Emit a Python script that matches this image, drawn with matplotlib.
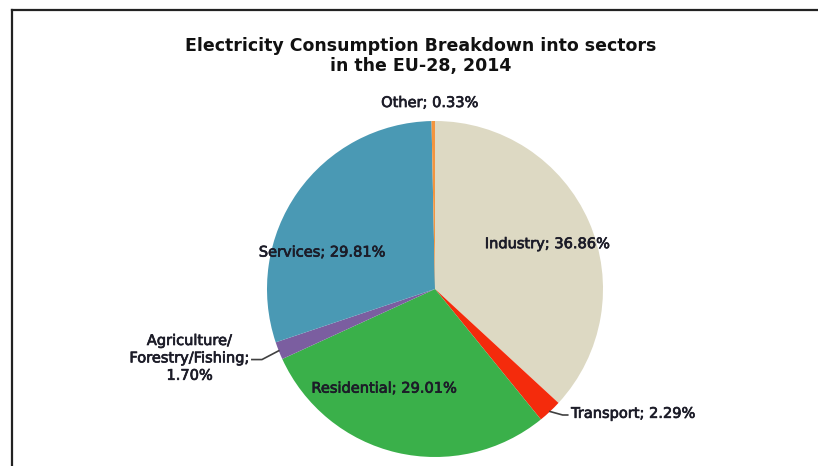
import numpy as np
import matplotlib.pyplot as plt
import matplotlib.patheffects as pe
from matplotlib.lines import Line2D

# sectors in clockwise order from 12 o'clock
sectors = ['Industry', 'Transport', 'Residential',
           'Agriculture/\nForestry/Fishing;\n', 'Services', 'Other']
shares = [36.86, 2.29, 29.01, 1.70, 29.81, 0.33]
colors = ['#DDD9C3', '#F42B0C', '#3AB04A', '#7B5EA0', '#4A99B4', '#F3953F']

fig = plt.figure(figsize=(8.18, 4.66), dpi=100)
W, H = 818, 466

# pie centre and radius in pixels
cx, cy, R = 435, 289, 168
ax = fig.add_axes([(cx - R) / W, (H - cy - R) / H, 2 * R / W, 2 * R / H])
wedges, _ = ax.pie(shares, colors=colors, startangle=90, counterclock=False,
                   wedgeprops=dict(linewidth=0))
ax.set_xlim(-1, 1)
ax.set_ylim(-1, 1)
ax.set_aspect('auto')
ax.axis('off')

fs = 10.5
tc = '#1c1c28'
thick = [pe.withStroke(linewidth=0.5, foreground=tc)]
kw = dict(fontsize=fs, color=tc, clip_on=False, path_effects=thick)

def lab(i):
    name = sectors[i]
    if name.endswith('\n'):
        return '%s%.2f%%' % (name, shares[i])
    return '%s; %.2f%%' % (name, shares[i])

# inside labels
ax.text(0.67, 0.27, lab(0), ha='center', va='center', **kw)
ax.text(-0.67, 0.22, lab(4), ha='center', va='center', **kw)
ax.text(-0.30, -0.59, lab(2), ha='center', va='center', **kw)
ax.text(-0.03, 1.11, lab(5), ha='center', va='center', **kw)

# leader-line labels
def edge(i):
    w = wedges[i]
    a = np.deg2rad((w.theta1 + w.theta2) / 2)
    return np.cos(a), np.sin(a)

ex, ey = edge(1)
ax.plot([ex, 0.76, 0.79], [ey, -0.75, -0.75], color='#404040', lw=1.2,
        clip_on=False)
ax.text(0.81, -0.74, lab(1), ha='left', va='center', **kw)

ex, ey = edge(3)
ax.plot([ex, -1.03, -1.09], [ey, -0.42, -0.42], color='#404040', lw=1.2,
        clip_on=False)
ax.text(-1.46, -0.41, lab(3), ha='center', va='center', linespacing=1.2, **kw)

fig.text(421 / W, 1 - 56 / H, 'Electricity Consumption Breakdown into sectors\nin the EU-28, 2014',
         ha='center', va='center', fontsize=12.5, fontweight='bold', color='#111111',
         linespacing=1.15)

# outer frame (left and top only visible)
fig.add_artist(Line2D([12 / W, 12 / W], [0, 1 - 10 / H], transform=fig.transFigure,
                      color='#222222', lw=1.6))
fig.add_artist(Line2D([12 / W, 1], [1 - 10 / H, 1 - 10 / H], transform=fig.transFigure,
                      color='#222222', lw=1.6))

fig.savefig('out.png', dpi=100)
